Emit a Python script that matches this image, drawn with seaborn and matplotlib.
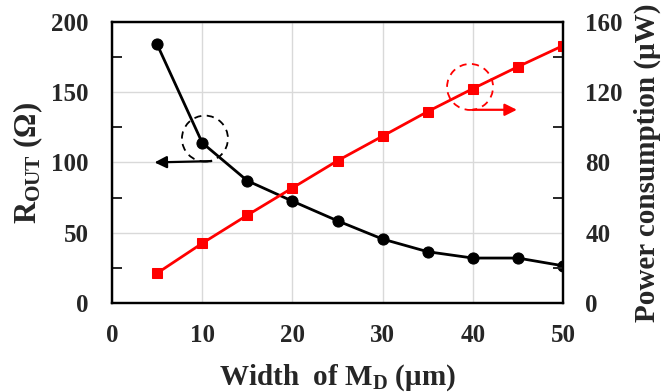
import matplotlib
matplotlib.use("Agg")
import matplotlib.pyplot as plt
from matplotlib.patches import Ellipse
from matplotlib.ticker import MultipleLocator
import seaborn as sns
import pandas as pd

width_um = [5, 10, 15, 20, 25, 30, 35, 40, 45, 50]
r_out = [184, 114, 87, 72.5, 58.5, 45.5, 36.5, 32, 32, 26.5]
power_uw = [17, 34, 50, 65.5, 81, 95, 109, 122, 134.5, 146.5]

df = pd.DataFrame({"w": width_um, "r": r_out, "p": power_uw})

sns.set_style("white")
plt.rcParams["font.family"] = ["Liberation Serif", "DejaVu Serif"]
plt.rcParams["font.weight"] = "bold"
plt.rcParams["mathtext.fontset"] = "custom"
plt.rcParams["mathtext.rm"] = "Liberation Serif:bold"
plt.rcParams["mathtext.it"] = "Liberation Serif:bold"
plt.rcParams["mathtext.bf"] = "Liberation Serif:bold"

fig = plt.figure(figsize=(6.67, 3.92), dpi=100)
ax = fig.add_axes([0.168, 0.227, 0.676, 0.717])
ax2 = ax.twinx()

ax.set_xlim(0, 50)
ax.set_ylim(0, 200)
ax2.set_ylim(0, 160)

ax.xaxis.set_major_locator(MultipleLocator(10))
ax.xaxis.set_minor_locator(MultipleLocator(5))
ax.yaxis.set_major_locator(MultipleLocator(50))
ax.yaxis.set_minor_locator(MultipleLocator(25))
ax2.yaxis.set_major_locator(MultipleLocator(40))
ax2.yaxis.set_minor_locator(MultipleLocator(20))

ax.grid(True, which="major", color="#d9d9d9", linewidth=1.0)
ax.set_axisbelow(True)

sns.lineplot(data=df, x="w", y="r", ax=ax, color="black", marker="o",
             markersize=8, linewidth=2, markeredgecolor="black")
sns.lineplot(data=df, x="w", y="p", ax=ax2, color="#ff0000", marker="s",
             markersize=7, linewidth=2, markeredgecolor="#ff0000")

for a in (ax, ax2):
    for s in a.spines.values():
        s.set_linewidth(1.6)
        s.set_color("black")

ax.tick_params(axis="both", which="both", direction="in", labelsize=18,
               width=1.4, top=False, right=False)
ax.tick_params(axis="both", which="major", length=0)
ax.tick_params(axis="x", which="major", pad=15)
ax.tick_params(axis="y", which="major", pad=17)
ax.tick_params(axis="both", which="minor", length=7)
ax2.tick_params(axis="y", which="both", direction="in", labelsize=18, width=1.4)
ax2.tick_params(axis="y", which="major", length=0, pad=16)
ax2.tick_params(axis="y", which="minor", length=7)

for lab in ax.get_xticklabels() + ax.get_yticklabels() + ax2.get_yticklabels():
    lab.set_fontweight("bold")

ax.set_xlabel(r"Width  of M$_{\mathrm{D}}$ ($\mathrm{\mu}$m)", fontsize=21,
              fontweight="bold", labelpad=11)
ax.set_ylabel(r"R$_{\mathrm{OUT}}$ ($\Omega$)", fontsize=22, fontweight="bold",
              labelpad=4)
ax2.set_ylabel("Power consumption (μW)", fontsize=21, fontweight="bold",
               labelpad=8)

# black dashed circle + arrow (left axis)
ax.add_patch(Ellipse((10.3, 117), width=5.1, height=32.7, fill=False,
                     edgecolor="black", linestyle=(0, (4, 3)), linewidth=1.3,
                     zorder=5))
ax.annotate("", xy=(4.4, 100), xytext=(11.3, 101),
            arrowprops=dict(arrowstyle="-|>", color="black", lw=1.6,
                            mutation_scale=18), zorder=5)

# red dashed circle + arrow (right axis)
ax2.add_patch(Ellipse((39.7, 123), width=5.1, height=26.2, fill=False,
                      edgecolor="#ff0000", linestyle=(0, (4, 3)), linewidth=1.3,
                      zorder=5))
ax2.annotate("", xy=(45.2, 110), xytext=(39.7, 110),
             arrowprops=dict(arrowstyle="-|>", color="#ff0000", lw=1.6,
                             mutation_scale=18), zorder=5)

fig.savefig("out.png", dpi=100)
